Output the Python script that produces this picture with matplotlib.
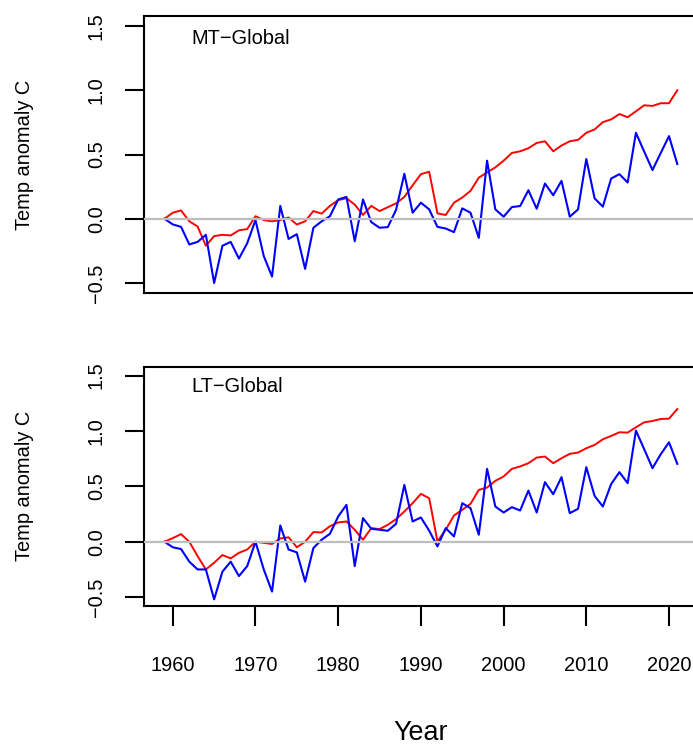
import numpy as np
import matplotlib
matplotlib.use("Agg")
import matplotlib.pyplot as plt

plt.rcParams['font.family'] = ['Liberation Sans', 'DejaVu Sans']

years = np.arange(1959, 2022)

mt_red = [0.0, 0.047, 0.065, -0.02, -0.06, -0.21, -0.135, -0.125, -0.13, -0.09,
          -0.08, 0.02, -0.01, -0.02, -0.01, 0.01, -0.045, -0.02, 0.06, 0.04,
          0.1, 0.145, 0.16, 0.11, 0.03, 0.1, 0.06, 0.09, 0.12, 0.17,
          0.26, 0.347, 0.366, 0.042, 0.029, 0.125, 0.165, 0.217, 0.32, 0.36,
          0.40, 0.452, 0.512, 0.525, 0.549, 0.59, 0.603, 0.525, 0.57, 0.603,
          0.614, 0.669, 0.695, 0.752, 0.773, 0.815, 0.79, 0.836, 0.883, 0.878,
          0.899, 0.899, 1.0]
mt_blue = [0.0, -0.044, -0.063, -0.2, -0.18, -0.125, -0.5, -0.21, -0.18, -0.31,
           -0.19, -0.01, -0.29, -0.45, 0.10, -0.157, -0.12, -0.39, -0.07, -0.02,
           0.02, 0.15, 0.17, -0.175, 0.15, -0.026, -0.07, -0.065, 0.07, 0.35,
           0.047, 0.125, 0.073, -0.063, -0.076, -0.104, 0.081, 0.047, -0.149, 0.452,
           0.073, 0.016, 0.091, 0.099, 0.222, 0.078, 0.274, 0.183, 0.295, 0.016,
           0.073, 0.465, 0.159, 0.094, 0.313, 0.347, 0.282, 0.669, 0.522, 0.379,
           0.512, 0.643, 0.426]

lt_red = [0.0, 0.033, 0.069, 0.0, -0.13, -0.25, -0.19, -0.12, -0.15, -0.10,
          -0.07, 0.0, -0.01, -0.02, 0.03, 0.04, -0.05, 0.0, 0.087, 0.084,
          0.14, 0.174, 0.183, 0.108, 0.018, 0.123, 0.114, 0.153, 0.204, 0.273,
          0.348, 0.432, 0.393, 0.003, 0.108, 0.237, 0.288, 0.342, 0.468, 0.489,
          0.55, 0.589, 0.658, 0.68, 0.709, 0.76, 0.769, 0.709, 0.754, 0.793,
          0.805, 0.844, 0.874, 0.925, 0.955, 0.988, 0.985, 1.033, 1.078, 1.09,
          1.108, 1.111, 1.198]
lt_blue = [0.0, -0.05, -0.066, -0.18, -0.25, -0.25, -0.52, -0.27, -0.18, -0.31,
           -0.22, 0.0, -0.25, -0.45, 0.147, -0.07, -0.096, -0.36, -0.057, 0.018,
           0.072, 0.228, 0.333, -0.22, 0.213, 0.117, 0.108, 0.099, 0.162, 0.513,
           0.183, 0.219, 0.10, -0.042, 0.123, 0.048, 0.348, 0.303, 0.063, 0.658,
           0.318, 0.264, 0.312, 0.282, 0.462, 0.264, 0.538, 0.429, 0.583, 0.258,
           0.297, 0.673, 0.414, 0.318, 0.52, 0.628, 0.529, 1.003, 0.835, 0.664,
           0.79, 0.898, 0.703]

y_ticks = [-0.5, 0.0, 0.5, 1.0, 1.5]
y_tick_labels = ['\u22120.5', '0.0', '0.5', '1.0', '1.5']
x_ticks = [1960, 1970, 1980, 1990, 2000, 2010, 2020]
panel_titles = ['MT\u2212Global', 'LT\u2212Global']

W, H = 693, 748
fig = plt.figure(figsize=(W / 100, H / 100), dpi=100)
ax1 = fig.add_axes([144 / W, 1 - 293.3 / H, 553.8 / W, 277.6 / H])
ax2 = fig.add_axes([144 / W, 1 - 606 / H, 553.8 / W, 239.3 / H])

for ax, red, blue, title in [(ax1, mt_red, mt_blue, panel_titles[0]),
                             (ax2, lt_red, lt_blue, panel_titles[1])]:
    ax.plot(years, red, color='#ff0000', lw=1.4, zorder=2)
    ax.plot(years, blue, color='#0000ff', lw=1.5, zorder=3)
    ax.axhline(0, color='#bebebe', lw=1.6, zorder=4)
    ax.set_xlim(1956.52, 2023.48)
    ax.set_ylim(-0.58, 1.58)
    ax.set_yticks(y_ticks)
    ax.set_yticklabels(y_tick_labels, rotation=90, va='center', fontsize=14.4)
    ax.tick_params(axis='y', length=14, width=1.5, pad=13.4)
    for s in ax.spines.values():
        s.set_linewidth(1.5)
    ax.set_ylabel('Temp anomaly C', fontsize=14.4)
    ax.yaxis.set_label_coords(-0.1995, 0.5)
    ax.text(0.086, 0.917, title, transform=ax.transAxes, fontsize=14.4,
            va='center', ha='left')

ax1.set_xticks([])
ax2.set_xticks(x_ticks)
ax2.set_xticklabels([str(t) for t in x_ticks], fontsize=14.4)
ax2.tick_params(axis='x', length=14.4, width=1.5, pad=21.5)
ax2.set_xlabel('Year', fontsize=19.4)
ax2.xaxis.set_label_coords(0.5, -0.476)

plt.savefig('out.png', dpi=100)
